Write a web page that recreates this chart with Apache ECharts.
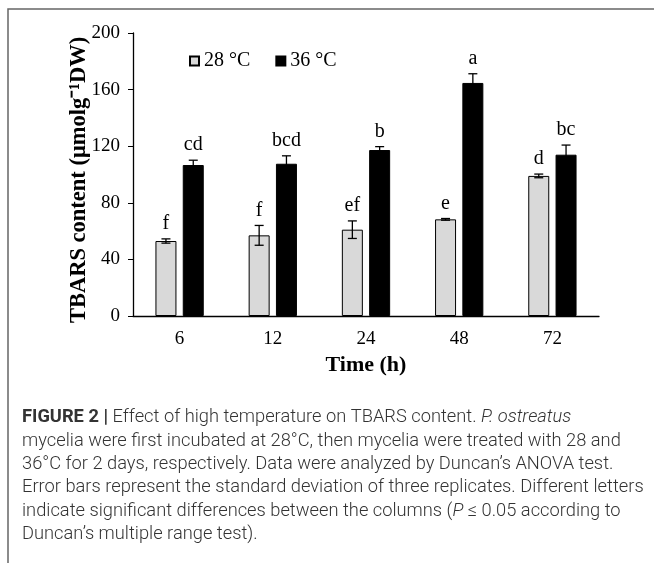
<!DOCTYPE html>
<html>
<head>
<meta charset="utf-8">
<script src="https://cdn.jsdelivr.net/npm/echarts@6/dist/echarts.min.js"></script>
<style>
html,body{margin:0;padding:0;background:#fff;}
#c{width:654px;height:563px;}
</style>
</head>
<body>
<div id="c"></div>
<script>
var categories = ['6', '12', '24', '48', '72'];
var seriesNames = ['28 °C', '36 °C'];
var values28 = [53, 57, 61, 68.3, 99];
var values36 = [106.7, 107.6, 117.3, 164.7, 114];
var err28 = [1.5, 7, 6.2, 0.6, 1.3];
var err36 = [3.4, 5.6, 2.4, 6.5, 6.8];
var letters28 = ['f', 'f', 'ef', 'e', 'd'];
var letters36 = ['cd', 'bcd', 'b', 'a', 'bc'];
var yTicks = {min: 0, max: 200, interval: 40};

var serif = '"Liberation Serif", "Times New Roman", serif';

function errData(vals, errs, letters) {
  return vals.map(function (v, i) { return [i, v, errs[i], letters[i]]; });
}

function errRender(offset) {
  return function (params, api) {
    var i = api.value(0);
    var v = api.value(1);
    var e = api.value(2);
    var top = api.coord([i, v + e]);
    var bot = api.coord([i, v - e]);
    var x = top[0] + offset;
    var cap = 4.5;
    var style = {stroke: '#000', lineWidth: 1.3};
    return {
      type: 'group',
      children: [
        {type: 'line', shape: {x1: x, y1: top[1], x2: x, y2: bot[1]}, style: style},
        {type: 'line', shape: {x1: x - cap, y1: top[1], x2: x + cap, y2: top[1]}, style: style},
        {type: 'line', shape: {x1: x - cap, y1: bot[1], x2: x + cap, y2: bot[1]}, style: style},
        {type: 'text', x: x, y: top[1] - 5, style: {
          text: api.value(3), fill: '#000', font: '20px ' + serif,
          align: 'center', verticalAlign: 'bottom'
        }}
      ]
    };
  };
}

var caption =
  '{b|FIGURE 2 |} Effect of high temperature on TBARS content. {i|P. ostreatus}\n' +
  'mycelia were first incubated at 28°C, then mycelia were treated with 28 and\n' +
  '36°C for 2 days, respectively. Data were analyzed by Duncan’s ANOVA test.\n' +
  'Error bars represent the standard deviation of three replicates. Different letters\n' +
  'indicate significant differences between the columns ({i|P} ≤ 0.05 according to\n' +
  'Duncan’s multiple range test).';

var capFont = 'Roboto, "Liberation Sans", sans-serif';
var capSize = 18.3;
var capLH = 23.4;

var chart = echarts.init(document.getElementById('c'), null, {renderer: 'canvas'});
chart.setOption({
  animation: false,
  backgroundColor: '#fff',
  textStyle: {fontFamily: serif},
  grid: {left: 133, right: 55, top: 33, bottom: 247, containLabel: false},
  legend: {
    left: 184, top: 46,
    itemWidth: 9, itemHeight: 9, itemGap: 25,
    icon: 'rect',
    data: seriesNames,
    textStyle: {fontFamily: serif, fontSize: 20, color: '#000'}
  },
  xAxis: {
    type: 'category',
    data: categories,
    name: 'Time (h)',
    nameLocation: 'middle',
    nameGap: 38,
    nameTextStyle: {fontFamily: serif, fontSize: 22, fontWeight: 'bold', color: '#000'},
    axisLine: {lineStyle: {color: '#000', width: 1.3}},
    axisTick: {inside: true, length: 4, lineStyle: {color: '#000'}},
    axisLabel: {fontFamily: serif, fontSize: 19, color: '#000', margin: 14},
    splitLine: {show: false}
  },
  yAxis: {
    type: 'value',
    min: yTicks.min, max: yTicks.max, interval: yTicks.interval,
    name: 'TBARS content (μmolg⁻¹DW)',
    nameLocation: 'middle',
    nameGap: 42,
    nameMoveOverlap: false,
    nameTextStyle: {fontFamily: serif, fontSize: 22.5, fontWeight: 'bold', color: '#000', padding: [0, 11, 0, 0]},
    axisLine: {show: true, lineStyle: {color: '#000', width: 1.3}},
    axisTick: {show: true, length: 5, lineStyle: {color: '#000'}},
    axisLabel: {fontFamily: serif, fontSize: 19, color: '#000', margin: 13},
    splitLine: {show: false}
  },
  series: [
    {
      name: seriesNames[0], type: 'bar', data: values28,
      barWidth: 21, barGap: '30%',
      itemStyle: {color: '#d9d9d9', borderColor: '#000', borderWidth: 1}
    },
    {
      name: seriesNames[1], type: 'bar', data: values36,
      barWidth: 21, barGap: '30%',
      itemStyle: {color: '#000', borderColor: '#000', borderWidth: 1}
    },
    {
      type: 'custom', renderItem: errRender(-13.65),
      data: errData(values28, err28, letters28), z: 5,
      encode: {x: 0, y: 1}
    },
    {
      type: 'custom', renderItem: errRender(13.65),
      data: errData(values36, err36, letters36), z: 5,
      encode: {x: 0, y: 1}
    }
  ],
  graphic: [
    {type: 'polyline', shape: {points: [[8, 563], [8, 9], [654, 9]]},
     style: {stroke: '#666', lineWidth: 1.5, fill: null}},
    {type: 'text', left: 22, top: 406, style: {
      text: caption,
      font: '300 ' + capSize + 'px ' + capFont,
      fill: '#333',
      lineHeight: capLH,
      rich: {
        b: {fontFamily: capFont, fontWeight: 'bold', fontSize: capSize, fill: '#333', lineHeight: capLH},
        i: {fontFamily: capFont, fontStyle: 'italic', fontWeight: 300, fontSize: capSize, fill: '#333', lineHeight: capLH}
      }
    }}
  ]
});
</script>
</body>
</html>
